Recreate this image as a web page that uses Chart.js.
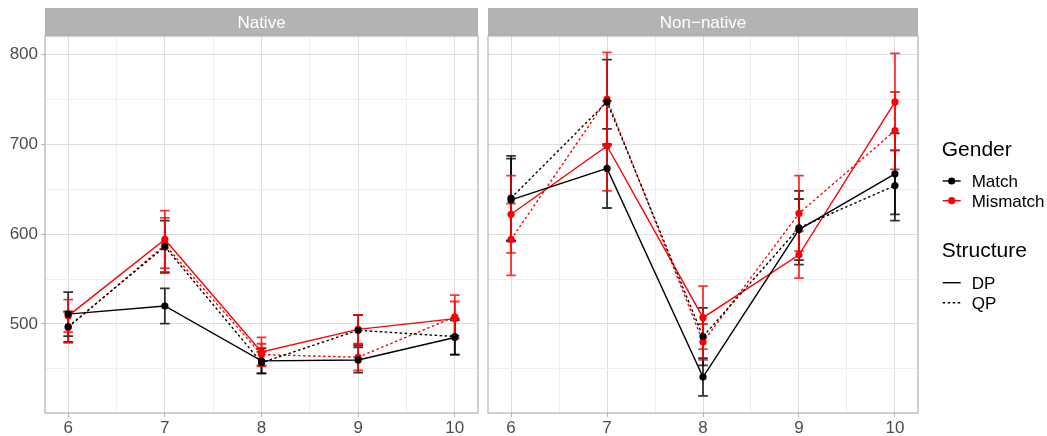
<!DOCTYPE html>
<html lang="en">
<head>
<meta charset="UTF-8">
<title>Gender by Structure</title>
<script src="https://cdn.jsdelivr.net/npm/chart.js"></script>
<style>
  body { margin: 0; background: #fff; font-family: "Liberation Sans", Arial, sans-serif; }
  #wrap { position: relative; width: 1047px; height: 436px; }
  .panel { position: absolute; top: 0; height: 436px; }
  #p1 { left: 0; width: 482px; }
  #p2 { left: 484px; width: 438px; }
  #leg { position: absolute; left: 922px; top: 0; }
</style>
</head>
<body>
<div id="wrap">
  <div class="panel" id="p1"><canvas id="nativeChart"></canvas></div>
  <div class="panel" id="p2"><canvas id="nonnativeChart"></canvas></div>
  <canvas id="leg" width="125" height="436"></canvas>
</div>
<script>
  // x positions and grid
  const positions = [6, 7, 8, 9, 10];
  const xGrid = [6, 6.5, 7, 7.5, 8, 8.5, 9, 9.5, 10];
  const yGrid = [450, 500, 550, 600, 650, 700, 750, 800];

  // Native panel: means and standard errors
  const natMatchDP = [511, 520, 459, 460, 485];
  const natMatchDPse = [24.5, 19.5, 14, 14, 19];
  const natMatchQP = [497, 586, 457, 493, 486];
  const natMatchQPse = [17, 29, 12, 17, 20];
  const natMismDP = [509, 594, 469, 494, 506];
  const natMismDPse = [18, 32, 16, 16, 19];
  const natMismQP = [496, 588, 466, 463, 508];
  const natMismQPse = [17, 30, 12, 14.5, 24];

  // Non-native panel
  const nnMatchDP = [638, 673, 441, 605, 667];
  const nnMatchDPse = [46, 44, 21, 34, 45];
  const nnMatchQP = [640, 747, 486, 607, 654];
  const nnMatchQPse = [47, 47, 32, 41, 39];
  const nnMismDP = [622, 698, 507, 577, 747];
  const nnMismDPse = [43, 50, 35, 26, 54];
  const nnMismQP = [594, 750, 480, 623, 715];
  const nnMismQPse = [40, 52, 20, 42, 43];

  const FONT = '"Liberation Sans", Arial, sans-serif';
  const BLACK = '#000000';
  const RED = '#FF0000';
  const DASH = [2.5, 2.5];

  function series(label, values, se, color, dashed) {
    return {
      label: label,
      data: positions.map((x, i) => ({ x: x, y: values[i] })),
      se: se,
      borderColor: color,
      backgroundColor: color,
      borderWidth: 1.4,
      borderDash: dashed ? DASH : [],
      pointRadius: 3.6,
      pointBorderWidth: 0,
      pointBackgroundColor: color,
      tension: 0
    };
  }

  // vertical error bars with caps, mean +/- se
  const errorBars = {
    id: 'errorBars',
    beforeDatasetsDraw(chart) {
      const c = chart.ctx, xs = chart.scales.x, ys = chart.scales.y;
      chart.data.datasets.forEach(ds => {
        c.save();
        c.strokeStyle = ds.borderColor;
        c.globalAlpha = 0.8;
        c.lineWidth = 1.8;
        ds.data.forEach((p, i) => {
          const x = xs.getPixelForValue(p.x);
          const hw = xs.getPixelForValue(p.x + 0.05) - x;
          const top = ys.getPixelForValue(p.y + ds.se[i]);
          const bot = ys.getPixelForValue(p.y - ds.se[i]);
          c.beginPath();
          c.moveTo(x, top); c.lineTo(x, bot);
          c.moveTo(x - hw, top); c.lineTo(x + hw, top);
          c.moveTo(x - hw, bot); c.lineTo(x + hw, bot);
          c.stroke();
        });
        c.restore();
      });
    }
  };

  // facet strip and panel border
  const panelFrame = {
    id: 'panelFrame',
    beforeDraw(chart, args, opts) {
      const a = chart.chartArea, c = chart.ctx;
      c.save();
      c.fillStyle = '#B3B3B3';
      c.fillRect(a.left, 8, a.right - a.left, a.top - 8);
      c.fillStyle = '#FFFFFF';
      c.font = '17px ' + FONT;
      c.textAlign = 'center';
      c.textBaseline = 'middle';
      c.fillText(opts.title, (a.left + a.right) / 2, (8 + a.top) / 2 + 1);
      c.restore();
    },
    afterDraw(chart) {
      const a = chart.chartArea, c = chart.ctx;
      c.save();
      c.strokeStyle = '#B3B3B3';
      c.lineWidth = 1.2;
      c.strokeRect(a.left, a.top, a.right - a.left, a.bottom - a.top);
      c.restore();
    }
  };

  function panelOptions(title, showY, padLeft) {
    return {
      responsive: true,
      maintainAspectRatio: false,
      animation: false,
      layout: { padding: { top: 36, left: padLeft, right: 2.7, bottom: 0 } },
      plugins: {
        legend: { display: false },
        tooltip: { enabled: false },
        panelFrame: { title: title }
      },
      scales: {
        x: {
          type: 'linear',
          min: 5.76,
          max: 10.24,
          afterBuildTicks: s => { s.ticks = xGrid.map(v => ({ value: v })); },
          afterFit: s => { s.height = 23; },
          border: { display: false },
          grid: {
            color: ctx => Number.isInteger(ctx.tick.value) ? '#DEDEDE' : '#EEEEEE',
            lineWidth: 1,
            tickLength: 4,
            tickColor: ctx => Number.isInteger(ctx.tick.value) ? '#B3B3B3' : 'rgba(0,0,0,0)'
          },
          ticks: {
            autoSkip: false,
            maxRotation: 0,
            padding: 1,
            color: '#4D4D4D',
            font: { size: 17, family: FONT },
            callback: v => Number.isInteger(v) ? String(v) : ''
          }
        },
        y: {
          min: 401,
          max: 820.3,
          afterBuildTicks: s => { s.ticks = yGrid.map(v => ({ value: v })); },
          afterFit: s => { s.width = showY ? 45 : 0; },
          border: { display: false },
          grid: {
            color: ctx => ctx.tick.value % 100 === 0 ? '#DEDEDE' : '#EEEEEE',
            lineWidth: 1,
            drawTicks: showY,
            tickLength: 4,
            tickColor: ctx => ctx.tick.value % 100 === 0 ? '#B3B3B3' : 'rgba(0,0,0,0)'
          },
          ticks: {
            display: showY,
            padding: 3,
            color: '#4D4D4D',
            font: { size: 17, family: FONT },
            callback: v => v % 100 === 0 ? String(v) : ''
          }
        }
      }
    };
  }

  new Chart(document.getElementById('nativeChart'), {
    type: 'line',
    data: {
      datasets: [
        series('Match DP', natMatchDP, natMatchDPse, BLACK, false),
        series('Match QP', natMatchQP, natMatchQPse, BLACK, true),
        series('Mismatch DP', natMismDP, natMismDPse, RED, false),
        series('Mismatch QP', natMismQP, natMismQPse, RED, true)
      ]
    },
    options: panelOptions('Native', true, 0),
    plugins: [panelFrame, errorBars]
  });

  new Chart(document.getElementById('nonnativeChart'), {
    type: 'line',
    data: {
      datasets: [
        series('Match DP', nnMatchDP, nnMatchDPse, BLACK, false),
        series('Match QP', nnMatchQP, nnMatchQPse, BLACK, true),
        series('Mismatch DP', nnMismDP, nnMismDPse, RED, false),
        series('Mismatch QP', nnMismQP, nnMismQPse, RED, true)
      ]
    },
    options: panelOptions('Non\u2212native', false, 2),
    plugins: [panelFrame, errorBars]
  });

  // legend (drawn by hand, x offset 922)
  const lg = document.getElementById('leg').getContext('2d');
  lg.fillStyle = '#000';
  lg.font = '21px ' + FONT;
  lg.fillText('Gender', 19.7, 155.7);
  lg.fillText('Structure', 19.7, 256.7);
  lg.font = '17px ' + FONT;
  lg.lineWidth = 1.4;
  [['Match', BLACK, 181], ['Mismatch', RED, 200.7]].forEach(([t, col, y]) => {
    lg.strokeStyle = col; lg.fillStyle = col;
    lg.beginPath(); lg.moveTo(20.7, y); lg.lineTo(38.7, y); lg.stroke();
    lg.beginPath(); lg.arc(29.7, y, 3.6, 0, Math.PI * 2); lg.fill();
    lg.fillStyle = '#000';
    lg.fillText(t, 49.7, y + 6);
  });
  [['DP', [], 282.7], ['QP', DASH, 302.7]].forEach(([t, dash, y]) => {
    lg.strokeStyle = '#000';
    lg.setLineDash(dash);
    lg.beginPath(); lg.moveTo(20.7, y); lg.lineTo(38.7, y); lg.stroke();
    lg.setLineDash([]);
    lg.fillStyle = '#000';
    lg.fillText(t, 49.7, y + 6);
  });
</script>
</body>
</html>
